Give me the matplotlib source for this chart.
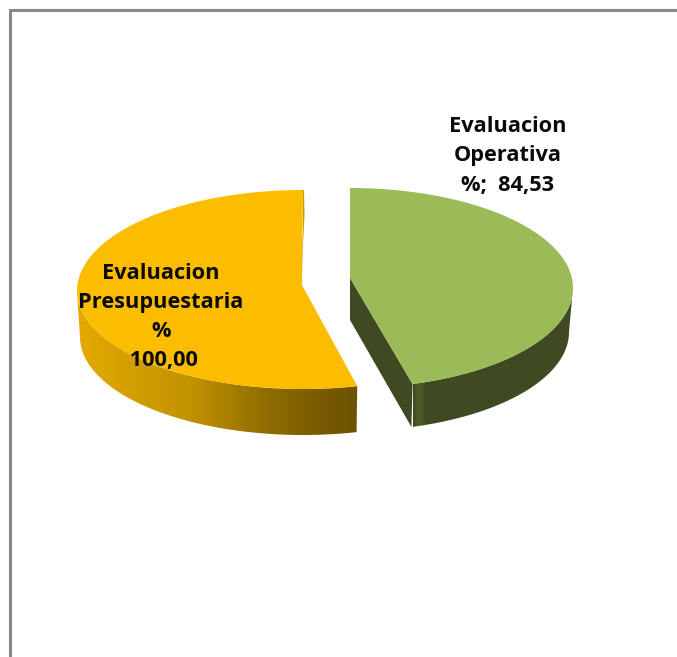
# 3D looking exploded pie, drawn by hand because matplotlib has no 3D pie
import matplotlib
matplotlib.use('Agg')
import matplotlib.pyplot as plt
import numpy as np
from matplotlib.colors import LinearSegmentedColormap
from matplotlib.patches import Polygon

# data
labels = ['Evaluacion\nOperativa\n%;  84,53', 'Evaluacion\nPresupuestaria\n%\n 100,00']
values = [84.53, 100.00]

# style
GREEN = '#9BBB59'
YELLOW = '#FCBD00'
green_side = ['#3F4A22', '#4E5E2A', '#3F4A22', '#3F4A22']
green_stops = [0.0, 0.03, 0.08, 1.0]
yellow_side = ['#E3AB00', '#C29200', '#8F6C00', '#785A00', '#6E5200']
yellow_stops = [0.0, 0.4, 0.68, 0.88, 1.0]

plt.rcParams['font.family'] = ['Open Sans', 'DejaVu Sans']

fig = plt.figure(figsize=(6.77, 6.57), dpi=100, facecolor='white')
ax = fig.add_axes([0, 0, 1, 1])
ax.axis('off')


def rim(cx, cy, a, b, start, end, b_low=None, n=200):
    # angles are clockwise from the top of the pie
    t = np.radians(np.linspace(start, end, n))
    c = np.cos(t)
    bb = np.where(c < 0, b if b_low is None else b_low, b)
    return np.column_stack([cx + a * np.sin(t), cy - bb * c])


def gradient_fill(poly, colors, stops, x0, x1):
    cmap = LinearSegmentedColormap.from_list('side', list(zip(stops, colors)))
    grad = np.linspace(0, 1, 400).reshape(1, -1)
    y = poly[:, 1]
    im = ax.imshow(grad, cmap=cmap, extent=[x0, x1, y.max(), y.min()], aspect='auto', zorder=2)
    patch = Polygon(poly, closed=True, transform=ax.transData, fc='none', ec='none')
    ax.add_patch(patch)
    im.set_clip_path(patch)


boundary = 360 * values[0] / sum(values)
trim = 1.2

# green slice
top = rim(350, 288, 223, 100, 0, boundary - trim)
low = rim(350, 332, 219, 99, 90, boundary - trim)
front = rim(350, 288, 223, 100, 90, boundary - trim)
side = np.vstack([front, low[::-1]])
gradient_fill(side, green_side, green_stops, top[-1, 0], 573)
apex = np.array([350, 278])
cut = np.array([apex, top[-1], low[-1], apex + [0, 42]])
ax.add_patch(Polygon(cut, closed=True, fc='#3F4A22', ec='none', zorder=3))
ax.add_patch(Polygon(np.vstack([apex, top]), closed=True, fc=GREEN, ec='none', zorder=4))

# yellow slice
top = rim(303, 291, 226, 101, boundary + trim, 360, b_low=98)
low = rim(303, 337, 223, 98, boundary + trim, 270)
front = rim(303, 291, 226, 101, boundary + trim, 270, b_low=98)
side = np.vstack([front, low[::-1]])
gradient_fill(side, yellow_side, yellow_stops, 77, top[0, 0])
apex = np.array([302, 285])
ax.add_patch(Polygon(np.vstack([apex, top]), closed=True, fc=YELLOW, ec='none', zorder=4))
# thin darker face on the cut
sliver = np.array([[304, 190], [304.5, 215], [301, 285], [303, 230], [303, 190]])
ax.add_patch(Polygon(sliver, closed=True, fc='#C99A00', ec='none', zorder=5))

# chart border, only top and left show
ax.plot([10, 10, 677], [657, 10, 10], color='#888888', lw=2.2, solid_joinstyle='miter', zorder=6)

# labels
ax.text(508, 156, labels[0], ha='center', va='center', fontsize=15.7, fontweight='bold',
        color='#0A0A0A', linespacing=1.51, zorder=7)
ax.text(161, 317, labels[1], ha='center', va='center', fontsize=15.7, fontweight='bold',
        color='#0A0A0A', linespacing=1.51, zorder=7)

ax.set_xlim(0, 677)
ax.set_ylim(657, 0)
fig.savefig('out.png', dpi=100)
